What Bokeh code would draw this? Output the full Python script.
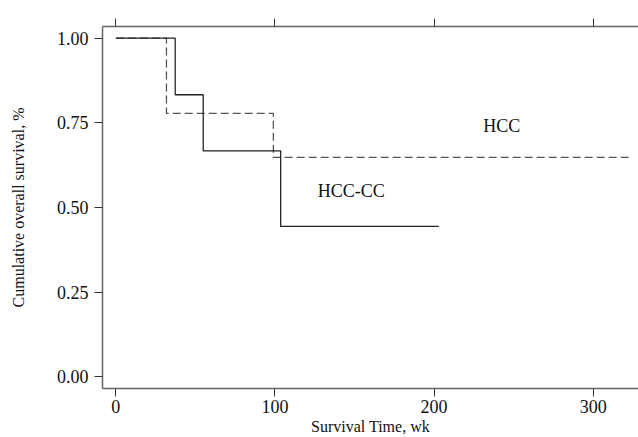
from bokeh.plotting import figure
from bokeh.models import LinearAxis, FixedTicker, Range1d, ColumnDataSource
from bokeh.core.properties import value
from bokeh.embed import file_html
from bokeh.resources import INLINE

# Kaplan-Meier step data (weeks, survival)
hcccc_time = [0, 37.3, 54.9, 103.6, 203]
hcccc_surv = [1.0, 0.833, 0.667, 0.444, 0.444]
hcc_time = [0, 31.8, 99.0, 323.5]
hcc_surv = [1.0, 0.778, 0.648, 0.648]

x_ticks = [0, 100, 200, 300]
y_ticks = [0.0, 0.25, 0.5, 0.75, 1.0]
y_tick_labels = {0.0: "0.00", 0.25: "0.25", 0.5: "0.50", 0.75: "0.75", 1.0: "1.00"}

group_names = ["HCC", "HCC-CC"]
group_label_x = [242.5, 148.0]
group_label_y = [0.742, 0.548]

FONT = "Liberation Serif"
AXIS_COL = "#666666"

p = figure(width=638, height=437, output_backend="svg", toolbar_location=None,
           x_range=Range1d(-8.4, 328.5), y_range=Range1d(-0.0346, 1.0346),
           min_border_left=102, min_border_right=0, min_border_top=26, min_border_bottom=49,
           x_axis_label="Survival Time, wk", y_axis_label="Cumulative overall survival, %")
p.outline_line_color = None
p.xgrid.visible = False
p.ygrid.visible = False
p.background_fill_color = "white"
p.border_fill_color = "white"

for ax in p.axis:
    ax.axis_line_color = AXIS_COL
    ax.axis_line_width = 1.5
    ax.major_tick_line_color = "#333333"
    ax.major_tick_out = 8
    ax.major_tick_in = 0
    ax.minor_tick_line_color = None
    ax.major_label_text_font = FONT
    ax.major_label_text_font_size = "18px"
    ax.major_label_text_color = "#111111"
    ax.major_label_text_line_height = 1.0
    ax.axis_label_text_font = FONT
    ax.axis_label_text_font_size = "16px"
    ax.axis_label_text_font_style = "normal"
    ax.axis_label_text_color = "#111111"
    ax.axis_label_text_line_height = 1.0

p.xaxis.ticker = FixedTicker(ticks=x_ticks)
p.xaxis.major_label_standoff = 3
p.xaxis.axis_label_standoff = 2
p.yaxis.ticker = FixedTicker(ticks=y_ticks)
p.yaxis.major_label_overrides = y_tick_labels
p.yaxis.major_label_standoff = 6
p.yaxis.axis_label_standoff = 27

top = LinearAxis(ticker=FixedTicker(ticks=x_ticks))
top.axis_line_color = AXIS_COL
top.axis_line_width = 1.5
top.major_tick_line_color = "#333333"
top.major_tick_out = 8
top.major_tick_in = 0
top.minor_tick_line_color = None
top.major_label_text_font_size = "1px"
top.major_label_text_alpha = 0
top.major_label_standoff = 0
p.add_layout(top, "above")

p.step(hcc_time, hcc_surv, mode="after", line_color="#555555", line_width=1.3, line_dash="8 4")
p.step(hcccc_time, hcccc_surv, mode="after", line_color="#222222", line_width=1.3)

src = ColumnDataSource(dict(x=group_label_x, y=group_label_y, t=group_names))
p.text(x="x", y="y", text="t", source=src, text_font=value(FONT), text_font_size="18px",
       text_align="center", text_baseline="middle", text_color="#111111")

open("out.html", "w").write(file_html(p, INLINE))
